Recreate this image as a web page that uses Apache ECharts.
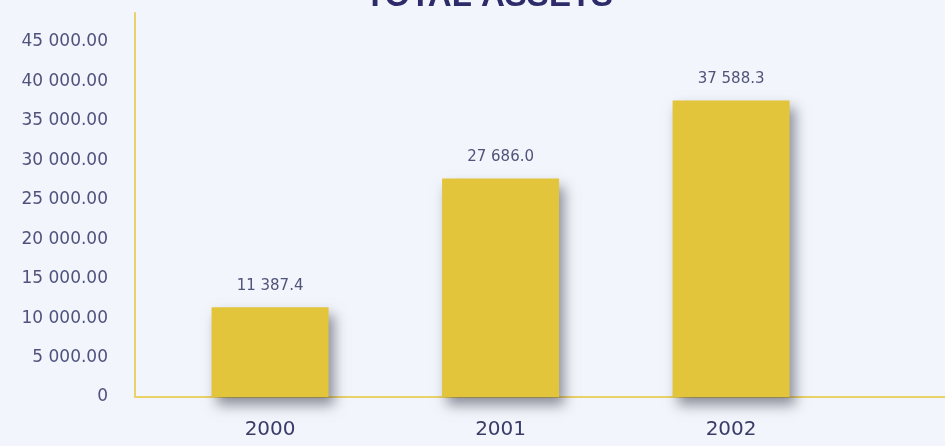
<!DOCTYPE html>
<html>
<head>
<meta charset="utf-8">
<script src="https://cdn.jsdelivr.net/npm/echarts@6/dist/echarts.min.js"></script>
<style>
  html, body { margin: 0; padding: 0; background: #f2f5fb; }
  #chart { width: 945px; height: 446px; }
</style>
</head>
<body>
<div id="chart"></div>
<script>
// Total assets by year
const years = ['2000', '2001', '2002'];
const assets = [11387.4, 27686.0, 37588.3];
const yTicks = [0, 5000, 10000, 15000, 20000, 25000, 30000, 35000, 40000, 45000];

// "45 000.00" style: space as thousands separator
function groupThousands(str) {
  const parts = str.split('.');
  parts[0] = parts[0].replace(/\B(?=(\d{3})+(?!\d))/g, ' ');
  return parts.join('.');
}

const chart = echarts.init(document.getElementById('chart'), null, { renderer: 'canvas' });

const tickColor = '#4f527c';
const yearColor = '#3a3c68';
const axisYellow = '#ead168';
const labelFont = 'DejaVu Sans, Verdana, sans-serif';

chart.setOption({
  backgroundColor: '#f2f5fb',
  animation: false,
  title: {
    text: 'TOTAL ASSETS',
    left: 484,
    textAlign: 'center',
    top: -25,
    textStyle: {
      fontFamily: 'Liberation Sans, Arial, sans-serif',
      fontWeight: 'bold',
      fontSize: 33,
      color: '#2d2b6a'
    }
  },
  grid: { left: 135, right: 0, top: 13, bottom: 49, containLabel: false },
  xAxis: {
    type: 'value',
    min: -0.586,
    max: 2.928,
    splitLine: { show: false },
    axisTick: { show: false },
    axisLine: { show: true, onZero: false, lineStyle: { color: axisYellow, width: 2 } },
    axisLabel: {
      customValues: [0, 1, 2],
      formatter: v => years[Math.round(v)],
      margin: 23,
      color: yearColor,
      fontFamily: labelFont,
      fontSize: 20
    }
  },
  yAxis: {
    type: 'value',
    min: 0,
    max: 48676,
    interval: 5000,
    splitLine: { show: false },
    axisTick: { show: false },
    axisLine: { show: true, onZero: false, lineStyle: { color: axisYellow, width: 2 } },
    axisLabel: {
      customValues: yTicks,
      margin: 27,
      color: tickColor,
      fontFamily: labelFont,
      fontSize: 17,
      formatter: v => v === 0 ? '0' : groupThousands(v.toFixed(2))
    }
  },
  series: [{
    type: 'bar',
    data: assets.map((v, i) => [i, v]),
    barWidth: 117,
    itemStyle: {
      color: '#e2c53b',
      shadowColor: 'rgba(40, 40, 60, 0.5)',
      shadowBlur: 12,
      shadowOffsetX: 5,
      shadowOffsetY: 8
    },
    label: {
      show: true,
      position: 'top',
      distance: 14,
      color: '#51547a',
      fontFamily: labelFont,
      fontSize: 15,
      formatter: p => groupThousands(p.value[1].toFixed(1))
    }
  }]
});
</script>
</body>
</html>
